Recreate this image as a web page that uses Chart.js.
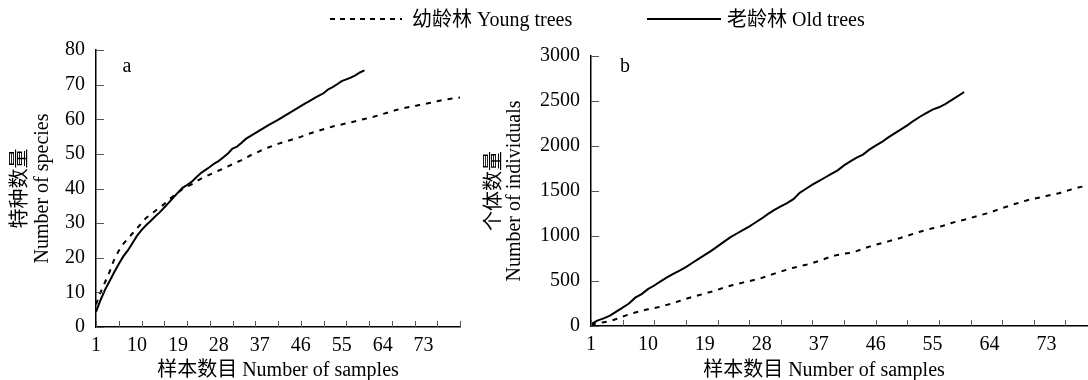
<!DOCTYPE html>
<html><head><meta charset="utf-8">
<script src="https://cdn.jsdelivr.net/npm/chart.js@4.4.1/dist/chart.umd.min.js"></script>
<style>
html,body{margin:0;padding:0;background:#fff;overflow:hidden;width:1088px;height:380px;}
#wrap{position:relative;width:1088px;height:380px;overflow:hidden;background:#fff;}
.cv{position:absolute;top:0;}
.txt{position:absolute;font-family:"Liberation Serif","Noto Sans CJK SC",serif;font-size:20px;color:#000;white-space:nowrap;line-height:1;}
.ctr{transform:translate(-50%,-50%);}
.mid{transform:translateY(-50%);}
</style></head><body>
<div id="wrap">
  <canvas id="chartA" class="cv" width="480" height="380" style="left:0px"></canvas>
  <canvas id="chartB" class="cv" width="640" height="380" style="left:470px"></canvas>
  <svg style="position:absolute;left:328px;top:10px" width="76" height="20"><line x1="2" y1="9" x2="74" y2="9" stroke="#000" stroke-width="2" stroke-dasharray="5 5"/></svg>
  <div class="txt mid" style="left:412px;top:19px">幼龄林 Young trees</div>
  <svg style="position:absolute;left:645px;top:10px" width="80" height="20"><line x1="2" y1="9" x2="76" y2="9" stroke="#000" stroke-width="2"/></svg>
  <div class="txt mid" style="left:727px;top:19px">老龄林 Old trees</div>
  <div class="txt ctr" style="left:127px;top:65px">a</div>
  <div class="txt ctr" style="left:625px;top:65px">b</div>
  <div class="txt ctr" style="left:278px;top:369px">样本数目 Number of samples</div>
  <div class="txt ctr" style="left:824px;top:369px">样本数目 Number of samples</div>
</div>
<script>
// ---- data ----
const samples = [1,2,3,4,5,6,7,8,9,10,11,12,13,14,15,16,17,18,19,20,21,22,23,24,25,26,27,28,29,30,31,32,33,34,35,36,37,38,39,40,41,42,43,44,45,46,47,48,49,50,51,52,53,54,55,56,57,58,59,60,61,62,63,64,65,66,67,68,69,70,71,72,73,74,75,76,77,78,79,80,81];
const xTickLabels = [1,10,19,28,37,46,55,64,73];
const xTickMarks = [1,6,11,16,21,26,31,36,41,46,51,56,61,66,71,76,81];

// panel a: number of species
const speciesYoung = [6.5,10,13,16,19.5,22,24,25.5,27,28.5,30,31.5,32.5,33.5,34.5,35.5,36.8,37.8,38.8,39.8,40.5,41.2,42,42.8,43.4,44,44.6,45.2,45.8,46.4,47,47.6,48.2,48.9,49.6,50.2,50.8,51.4,51.9,52.4,52.9,53.3,53.7,54.1,54.5,54.9,55.4,55.9,56.3,56.7,57.1,57.5,57.9,58.2,58.5,58.8,59.1,59.4,59.8,60.1,60.4,60.7,61.1,61.5,61.9,62.3,62.7,63.0,63.3,63.6,63.8,64.1,64.3,64.6,64.9,65.2,65.5,65.7,65.9,66.1,66.3];
const speciesOld = [4.4,7.8,10.8,13.3,15.8,18.2,20.4,22.1,24.2,26.3,28.0,29.4,30.6,31.9,33.1,34.5,35.9,37.4,38.8,40.2,41.0,41.9,43.2,44.4,45.3,46.2,47.2,48.0,49.0,50.1,51.5,52.1,53.2,54.4,55.2,56.0,56.8,57.6,58.4,59.1,59.8,60.6,61.4,62.2,63.0,63.8,64.6,65.3,66.1,66.8,67.5,68.6,69.3,70.1,71.0,71.5,72.0,72.7,73.5,74.1];
const speciesTicks = [0,10,20,30,40,50,60,70,80];

// panel b: number of individuals
const indivYoung = [15,30,42,55,78,105,128,150,168,185,200,215,235,255,278,302,322,342,360,380,402,425,447,465,482,498,515,535,558,582,604,627,648,664,680,700,722,747,772,790,803,813,832,858,882,902,920,940,960,980,1002,1025,1047,1068,1085,1100,1120,1145,1165,1180,1200,1220,1240,1258,1285,1310,1332,1355,1378,1398,1413,1428,1445,1460,1475,1498,1518,1538,1553,1570,1590];
const indivOld = [20,60,85,115,160,205,250,315,355,410,450,495,540,580,615,655,700,745,790,835,885,935,985,1025,1065,1105,1150,1195,1245,1290,1330,1365,1410,1480,1525,1570,1610,1650,1690,1730,1785,1830,1870,1905,1960,2005,2045,2095,2140,2185,2230,2280,2325,2365,2405,2430,2465,2510,2555,2600];
const indivTicks = [0,500,1000,1500,2000,2500,3000];

const seriesNames = ['幼龄林 Young trees','老龄林 Old trees'];
const FAMILY = '"Liberation Serif","Noto Sans CJK SC",serif';

// tick marks drawn inward from the axes, positioned by the chart's own scales
const innerTicks = {
  id:'innerTicks',
  afterDraw(chart, args, opts){
    const {ctx, chartArea} = chart;
    const xs = chart.scales.x, ys = chart.scales.y;
    ctx.save();
    ctx.strokeStyle = '#555';
    ctx.lineWidth = 1;
    ctx.beginPath();
    xTickMarks.forEach(v=>{
      const px = Math.round(xs.getPixelForValue(v)) + 0.5;
      ctx.moveTo(px, chartArea.bottom);
      ctx.lineTo(px, chartArea.bottom - 6);
    });
    opts.yTicks.forEach(v=>{
      const py = Math.round(ys.getPixelForValue(v)) + 0.5;
      ctx.moveTo(chartArea.left, py);
      ctx.lineTo(chartArea.left + 8, py);
    });
    ctx.stroke();
    ctx.restore();
  }
};

function makeChart(id, young, old, yTicks, yTitle, cfg){
  return new Chart(document.getElementById(id), {
    type:'line',
    plugins:[innerTicks],
    data:{
      labels: samples,
      datasets:[
        {label:seriesNames[0], data:young, borderColor:'#000', borderWidth:2, borderDash:[5,6], pointRadius:0, tension:0, fill:false},
        {label:seriesNames[1], data:old, borderColor:'#000', borderWidth:2, pointRadius:0, tension:0, fill:false}
      ]
    },
    options:{
      responsive:false, animation:false,
      layout:{padding:{left:0, top:cfg.top, right:cfg.right, bottom:0}},
      plugins:{legend:{display:false}, tooltip:{enabled:false}, innerTicks:{yTicks:yTicks}},
      scales:{
        x:{
          type:'linear', min:1, max:81,
          afterBuildTicks:(s)=>{ s.ticks = xTickLabels.map(v=>({value:v})); },
          ticks:{autoSkip:false, maxRotation:0, minRotation:0, padding:7, color:'#000',
            font:{family:FAMILY, size:20},
            callback:(v)=> String(v)},
          grid:{display:false, drawOnChartArea:false, drawTicks:false},
          border:{display:true, color:'#000', width:1.5},
          afterFit:(s)=>{ s.height = cfg.xh; }
        },
        y:{
          min:yTicks[0], max:yTicks[yTicks.length-1],
          afterBuildTicks:(s)=>{ s.ticks = yTicks.map(v=>({value:v})); },
          ticks:{padding:11, color:'#000', font:{family:FAMILY, size:20}, callback:(v)=>String(v)},
          grid:{display:false, drawOnChartArea:false, drawTicks:false},
          border:{display:true, color:'#000', width:1.5},
          title:{display:true, text:yTitle, color:'#000',
            font:{family:FAMILY, size:20, lineHeight:cfg.tlh}, padding:{top:cfg.tpad, bottom:0}},
          afterFit:(s)=>{ s.width = cfg.yw; }
        }
      }
    }
  });
}

makeChart('chartA', speciesYoung, speciesOld, speciesTicks, ['特种数量','Number of species'],
  {top:50, right:20, xh:53, yw:96, tlh:1.1, tpad:10});
makeChart('chartB', indivYoung, indivOld, indivTicks, ['个体数量','Number of individuals'],
  {top:56, right:13, xh:54, yw:121, tlh:1.0, tpad:15});
</script>
</body></html>
